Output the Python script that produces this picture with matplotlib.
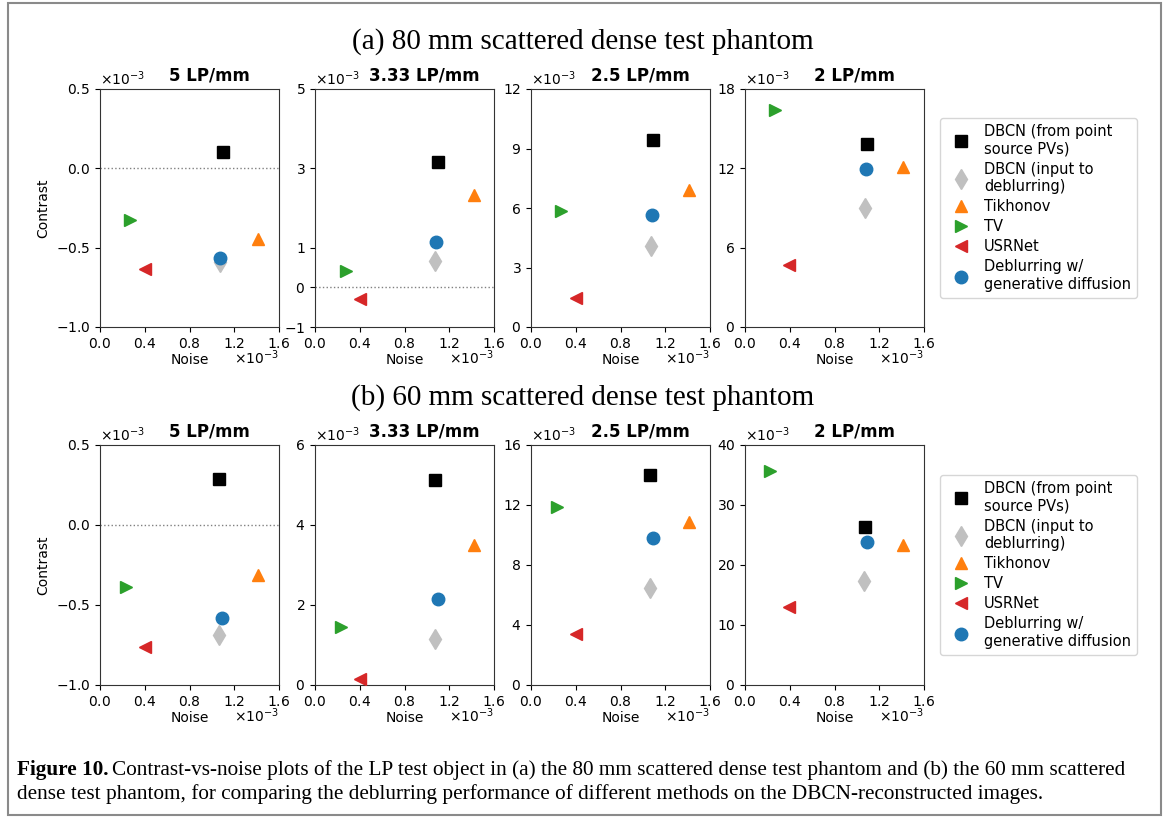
import matplotlib
matplotlib.use("Agg")
import matplotlib.pyplot as plt
from matplotlib.patches import Rectangle
import numpy as np

SCALE = 1e-3

methods = ["DBCN (from point\nsource PVs)", "DBCN (input to\ndeblurring)", "Tikhonov",
           "TV", "USRNet", "Deblurring w/\ngenerative diffusion"]
markers = ["s", "d", "^", ">", "<", "o"]
colors = ["black", "#c0c0c0", "#ff7f0e", "#2ca02c", "#d62728", "#1f77b4"]

panel_titles = ["5 LP/mm", "3.33 LP/mm", "2.5 LP/mm", "2 LP/mm"]
row_titles = ["(a) 80 mm scattered dense test phantom", "(b) 60 mm scattered dense test phantom"]

# (a) 80 mm phantom, values in units of 1e-3; order follows `methods`
noise_a = [
    [1.10, 1.07, 1.41, 0.27, 0.40, 1.07],
    [1.10, 1.07, 1.42, 0.28, 0.40, 1.08],
    [1.09, 1.07, 1.41, 0.27, 0.40, 1.08],
    [1.09, 1.07, 1.41, 0.27, 0.39, 1.08],
]
contrast_a = [
    [0.10, -0.59, -0.445, -0.325, -0.635, -0.567],
    [3.17, 0.66, 2.33, 0.41, -0.30, 1.15],
    [9.44, 4.07, 6.91, 5.84, 1.46, 5.64],
    [13.83, 8.98, 12.08, 16.43, 4.70, 11.96],
]
# (b) 60 mm phantom
noise_b = [
    [1.06, 1.06, 1.41, 0.23, 0.40, 1.09],
    [1.07, 1.07, 1.42, 0.23, 0.40, 1.10],
    [1.06, 1.06, 1.41, 0.23, 0.40, 1.09],
    [1.07, 1.06, 1.41, 0.22, 0.39, 1.09],
]
contrast_b = [
    [0.29, -0.69, -0.31, -0.385, -0.76, -0.58],
    [5.12, 1.15, 3.51, 1.44, 0.14, 2.14],
    [13.98, 6.49, 10.87, 11.87, 3.40, 9.79],
    [26.4, 17.4, 23.3, 35.7, 13.0, 23.9],
]

ylims_a = [(-1.0, 0.5), (-1, 5), (0, 12), (0, 18)]
yticks_a = [[-1.0, -0.5, 0.0, 0.5], [-1, 0, 1, 3, 5], [0, 3, 6, 9, 12], [0, 6, 12, 18]]
ylims_b = [(-1.0, 0.5), (0, 6), (0, 16), (0, 40)]
yticks_b = [[-1.0, -0.5, 0.0, 0.5], [0, 2, 4, 6], [0, 4, 8, 12, 16], [0, 10, 20, 30, 40]]
xticks = [0.0, 0.4, 0.8, 1.2, 1.6]

W, H = 1168, 823
fig = plt.figure(figsize=(W / 100, H / 100), dpi=100)
plt.rcParams['font.family'] = ['DejaVu Sans']

lefts_px = [100, 315, 531, 745]
width_px = 179
rows = [
    dict(top=89, bottom=327, noise=noise_a, contrast=contrast_a, ylims=ylims_a, yticks=yticks_a),
    dict(top=445, bottom=685, noise=noise_b, contrast=contrast_b, ylims=ylims_b, yticks=yticks_b),
]

for r, row in enumerate(rows):
    for p in range(4):
        h_px = row["bottom"] - row["top"]
        ax = fig.add_axes([lefts_px[p] / W, 1 - row["bottom"] / H, width_px / W, h_px / H])
        for m in range(len(methods)):
            ax.plot(row["noise"][p][m] * SCALE, row["contrast"][p][m] * SCALE,
                    linestyle="none", marker=markers[m], color=colors[m],
                    markersize=9 if markers[m] != "d" else 10, label=methods[m],
                    zorder=3 if m != 1 else 2)
        lo, hi = row["ylims"][p]
        ax.set_xlim(0, 1.6 * SCALE)
        ax.set_ylim(lo * SCALE, hi * SCALE)
        ax.set_xticks([t * SCALE for t in xticks])
        ax.set_yticks([t * SCALE for t in row["yticks"][p]])
        if lo < 0 < hi:
            ax.axhline(0, color="gray", linestyle=":", linewidth=1.0, zorder=1)
        ax.ticklabel_format(axis="both", style="sci", scilimits=(-3, -3), useMathText=True)
        ax.tick_params(labelsize=10)
        ax.yaxis.get_offset_text().set_fontsize(10)
        ax.xaxis.get_offset_text().set_visible(False)
        ax.text(1.0, -31 / h_px, r"$\times10^{-3}$", transform=ax.transAxes,
                ha="right", va="center", fontsize=10)
        ax.set_xlabel("Noise", fontsize=10, labelpad=2)
        if p == 0:
            ax.set_ylabel("Contrast", fontsize=10)
        ax.set_title(panel_titles[p], fontsize=12, fontweight="bold", pad=6,
                     x=0.5 + 20 / width_px, y=1.0)
        for s in ax.spines.values():
            s.set_color("#333333")
        if p == 3:
            ax.legend(loc="center left", bbox_to_anchor=(1.09, 0.5), borderaxespad=0,
                      fontsize=10.5, handletextpad=0.6, labelspacing=0.35,
                      frameon=True, edgecolor="#cccccc")
    fig.text(583 / W, 1 - (42 if r == 0 else 398) / H, row_titles[r],
             ha="center", va="center", fontsize=21, family=["Liberation Serif"])

# Caption
cap_lines = ["Contrast-vs-noise plots of the LP test object in (a) the 80 mm scattered dense test phantom and (b) the 60 mm scattered",
             "dense test phantom, for comparing the deblurring performance of different methods on the DBCN-reconstructed images."]
cap_fs = 15.3
bold_txt = fig.text(17 / W, 1 - 770 / H, "Figure 10.", ha="left", va="center",
                    fontsize=cap_fs, fontweight="bold", family=["Liberation Serif"])
fig.canvas.draw()
bb = bold_txt.get_window_extent(renderer=fig.canvas.get_renderer())
fig.text((bb.x1 + 3) / W, 1 - 770 / H, cap_lines[0], ha="left", va="center",
         fontsize=cap_fs, family=["Liberation Serif"])
fig.text(17 / W, 1 - 794 / H, cap_lines[1], ha="left", va="center",
         fontsize=cap_fs, family=["Liberation Serif"])

fig.patches.append(Rectangle((8 / W, 8 / H), (1161 - 8) / W, (815 - 3) / H,
                             transform=fig.transFigure, fill=False,
                             edgecolor="#8a8a8a", linewidth=1.5))

fig.savefig("out.png", dpi=100)
